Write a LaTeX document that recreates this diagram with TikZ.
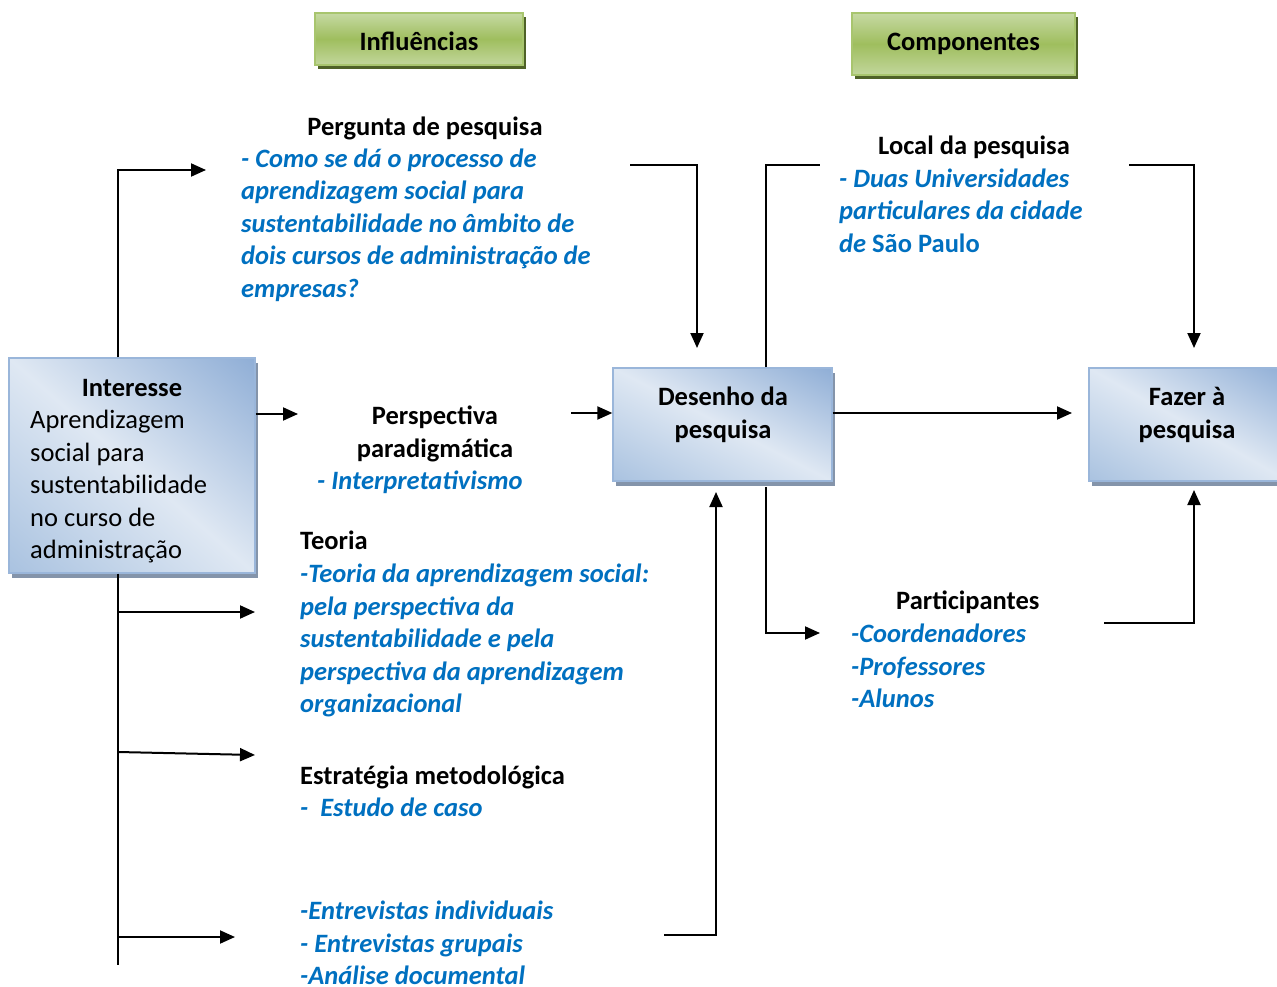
\documentclass[tikz,border=0pt]{standalone}
\usepackage{fontspec}
\setmainfont{Carlito}
\usetikzlibrary{arrows.meta,shadows}
\definecolor{txtblue}{HTML}{0070C0}
\definecolor{bbord}{HTML}{9AB6DA}
\definecolor{bshad}{HTML}{8494AA}
\definecolor{glt}{HTML}{C6D9A3}
\definecolor{gmd}{HTML}{9FBE5E}
\definecolor{gbord}{HTML}{A8C56E}
\definecolor{gshad}{HTML}{4F6228}
\pgfdeclarefunctionalshading{bluediag}{\pgfpointorigin}{\pgfpoint{100bp}{100bp}}{}{
  25 sub exch 25 sub add 100 div
  dup 0 lt {pop 0} if
  dup 1 gt {pop 1} if
  dup 0.5 lt
  { 2 mul
    dup 0.212 mul 0.663 add exch
    dup 0.149 mul 0.761 add exch
    0.075 mul 0.878 add }
  { 0.5 sub 2 mul
    dup -0.314 mul 0.875 add exch
    dup -0.228 mul 0.910 add exch
    -0.114 mul 0.953 add }
  ifelse
}
\newcommand{\tl}[1]{\begin{tabular}[t]{@{}l@{}}#1\end{tabular}}
\newcommand{\tc}[1]{\begin{tabular}[t]{@{}c@{}}#1\end{tabular}}
\begin{document}
\begin{tikzpicture}[x=1pt,y=-1pt,
  reg/.style={inner sep=0pt, font=\fontsize{26.5}{32.5}\selectfont},
  blk/.style={inner sep=0pt, font=\fontsize{26.5}{32.5}\selectfont\bfseries},
  blu/.style={inner sep=0pt, text=txtblue, font=\fontsize{26.5}{32.5}\selectfont\bfseries\itshape},
  bluebox/.style={draw=bbord, line width=1.3pt, shading=bluediag, inner sep=0pt,
     drop shadow={shadow xshift=3pt, shadow yshift=-5pt, fill=bshad, opacity=1}},
  greenbox/.style={draw=gbord, line width=1.5pt, top color=glt, bottom color=glt!90!gmd, middle color=gmd, inner sep=0pt,
     font=\fontsize{26.5}{32.5}\selectfont\bfseries,
     drop shadow={shadow xshift=2.5pt, shadow yshift=-4pt, fill=gshad, opacity=1}},
  ln/.style={line width=2pt, draw=black},
  arr/.style={ln, -{Triangle[length=15pt,width=13pt]}}
]
\useasboundingbox (0,0) rectangle (1277,987);

% header boxes
\node[greenbox, minimum width=208pt, minimum height=52pt, text height=23pt, text depth=0pt] (infl) at (419,39) {Influências};
\node[greenbox, minimum width=223pt, minimum height=62pt] (comp) at (963.5,44) {Componentes};

% blue boxes
\node[bluebox, minimum width=246pt, minimum height=215pt] (int) at (132,465.5) {};
\node[blk, anchor=base] (inth) at (132,396) {Interesse};
\node[reg, anchor=base west] (intt) at (30,428.5) {\tl{Aprendizagem\\social para\\sustentabilidade\\no curso de\\administração}};

\node[bluebox, minimum width=219pt, minimum height=113pt] (des) at (722.5,424.5) {};
\node[blk, anchor=base] (dest) at (723,405.5) {\tc{Desenho da\\pesquisa}};

\node[bluebox, minimum width=200pt, minimum height=113pt] (faz) at (1189,424.5) {};
\node[blk, anchor=base] (fazt) at (1187,405.5) {\tc{Fazer à\\pesquisa}};

% text blocks
\node[blk, anchor=base] (pqh) at (425,135.5) {Pergunta de pesquisa};
\node[blu, anchor=base west] (pq) at (241,167.5) {\tl{- Como se dá o processo de\\aprendizagem social para\\sustentabilidade no âmbito de\\dois cursos de administração de\\empresas?}};
\node[blk, anchor=base] (pph) at (435,424.5) {\tc{Perspectiva\\paradigmática}};
\node[blu, anchor=base west] (pp) at (317,489.5) {- Interpretativismo};
\node[blk, anchor=base west] (teh) at (300,549.5) {Teoria};
\node[blu, anchor=base west] (te) at (300,582.5) {\tl{-Teoria da aprendizagem social:\\pela perspectiva da\\sustentabilidade e pela\\perspectiva da aprendizagem\\organizacional}};
\node[blk, anchor=base west] (esh) at (300,784.5) {Estratégia metodológica};
\node[blu, anchor=base west] (es) at (300,816.5) {-\ \ Estudo de caso};
\node[blu, anchor=base west] (en) at (300,919.5) {\tl{-Entrevistas individuais\\- Entrevistas grupais\\-Análise documental}};
\node[blk, anchor=base] (lph) at (974,154.5) {Local da pesquisa};
\node[blu, anchor=base west] (lp) at (839,187.5) {\tl{- Duas Universidades\\particulares da cidade\\de {\upshape São Paulo}}};
\node[blk, anchor=base west] (pah) at (896,609.5) {Participantes};
\node[blu, anchor=base west] (pa) at (851,642.5) {\tl{-Coordenadores\\-Professores\\-Alunos}};

% coordinates
\coordinate (xl) at (118,965);
\coordinate (pqin) at (206,170);
\coordinate (ppin) at (298,414);
\coordinate (tein) at (255,612);
\coordinate (esout) at (118,752);
\coordinate (esin) at (255,755);
\coordinate (enin) at (235,937);
\coordinate (pqout) at (630,165);
\coordinate (din1) at (697,348);
\coordinate (ppout) at (571,413);
\coordinate (enout) at (664,935);
\coordinate (din2) at (716,492);
\coordinate (xd) at (766,487);
\coordinate (lpin) at (820,165);
\coordinate (pain) at (820,633);
\coordinate (fin) at (1072,413);
\coordinate (lpout) at (1129,165);
\coordinate (fin1) at (1194,348);
\coordinate (paout) at (1104,623);
\coordinate (fin2) at (1194,490);

% connectors
\draw[arr] (int.north -| xl) |- (pqin);
\draw[arr] (int.east |- ppin) -- (ppin);
\draw[ln] (int.south -| xl) -- (xl);
\draw[arr] (tein -| xl) -- (tein);
\draw[arr] (esout) -- (esin);
\draw[arr] (enin -| xl) -- (enin);
\draw[arr] (pqout) -| (din1);
\draw[arr] (ppout) -- (des.west |- ppout);
\draw[arr] (enout) -| (din2);
\draw[ln] (des.north -| xd) |- (lpin);
\draw[arr] (xd) |- (pain);
\draw[arr] (des.east |- fin) -- (fin);
\draw[arr] (lpout) -| (fin1);
\draw[arr] (paout) -| (fin2);
\end{tikzpicture}
\end{document}
